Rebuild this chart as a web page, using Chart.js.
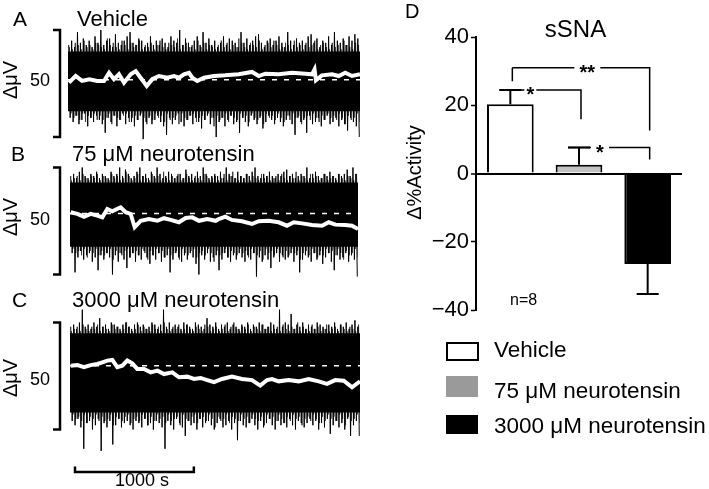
<!DOCTYPE html>
<html><head><meta charset="utf-8">
<script src="https://cdn.jsdelivr.net/npm/chart.js@4.4.1/dist/chart.umd.min.js"></script>
<style>
html,body{margin:0;padding:0;background:#fff;}
#wrap{position:relative;width:709px;height:489px;overflow:hidden;background:#fff;}
canvas{position:absolute;left:0;top:0;}
</style></head><body>
<div id="wrap">
<canvas id="cA" width="709" height="489"></canvas>
<canvas id="cB" width="709" height="489"></canvas>
<canvas id="cC" width="709" height="489"></canvas>
<canvas id="cD" width="709" height="489"></canvas>
</div>
<script>
const FONT = "'Liberation Sans', Arial, Helvetica, sans-serif";

// ---------- Traces (panels A-C) ----------
const panelLetters = ['A', 'B', 'C'];
const panelTitles = ['Vehicle', '75 \u03bcM neurotensin', '3000 \u03bcM neurotensin'];
const scaleBarLabel = '50';        // µV scale bar
const unitLabel = '\u0394\u03bcV';
const timeBarLabel = '1000 s';
const timeSpan = 2440;             // s shown in each trace
const timeBarSeconds = [42, 1042];
const scaleBarMicroV = [-25, 25];

// spike tops / bottoms (µV relative to scale-bar centre)
const A_hi = [18,20,17,24,19,21,18,20,17,22, 19,25,18,20,21,17,23,19,18,20, 22,24,19,18,21,20,17,19,22,18, 20,18,21,19,17,22,20,19,25,18,
              21,19,17,20,22,18,24,19,21,18, 20,17,19,22,18,21,20,19,17,24, 19,21,18,20,22,23,19,17,20,21, 18,20,22,19,17,24,20,18,21,19,
              20,18,22,23,19,21,17,20,19,22, 18,24,20,19,21,18,22,20,23,21];
const A_lo = [-16,-18,-15,-19,-17,-14,-20,-16,-18,-15, -17,-19,-23,-16,-18,-15,-20,-17,-14,-19, -16,-18,-20,-17,-15,-26,-18,-16,-19,-17,
              -15,-18,-20,-24,-16,-19,-17,-14,-18,-20, -17,-15,-19,-16,-18,-21,-17,-15,-19,-16, -25,-18,-16,-20,-17,-15,-19,-18,-23,-16,
              -18,-20,-15,-17,-19,-16,-21,-18,-15,-17, -19,-16,-18,-20,-17,-15,-19,-24,-16,-18, -17,-23,-15,-19,-18,-16,-20,-17,-15,-19,
              -18,-16,-20,-17,-19,-22,-16,-18,-20,-25];
const A_hi2 = [17,16,19,18,16,20,17,18,16,19, 18,17,16,21,18,19,17,16,20,18, 16,19,17,18,20,16,18,17,19,16, 18,20,17,16,19,18,17,21,16,18,
               19,17,18,16,20,17,19,16,18,17, 16,18,20,17,19,16,18,17,21,19, 17,16,19,18,17,20,16,18,19,17, 20,18,16,17,19,18,16,20,17,18,
               16,19,17,18,20,16,18,19,17,16, 19,17,18,16,20,18,17,16,19,18];
const A_lo2 = [-14,-16,-15,-17,-14,-18,-15,-16,-14,-17, -15,-17,-16,-14,-19,-15,-16,-17,-15,-14, -18,-16,-15,-17,-14,-16,-19,-15,-17,-14,
               -16,-15,-18,-14,-17,-16,-15,-19,-14,-16, -17,-15,-14,-18,-16,-15,-17,-14,-16,-20, -15,-17,-16,-14,-18,-15,-16,-17,-14,-16,
               -15,-18,-14,-16,-17,-15,-19,-14,-16,-15, -17,-14,-16,-18,-15,-17,-14,-16,-15,-19, -16,-15,-17,-14,-16,-18,-15,-17,-14,-16,
               -15,-17,-14,-16,-19,-15,-17,-16,-14,-18];
const B_hi = [21,22,20,23,25,21,20,22,21,23, 20,22,21,20,23,21,22,25,21,24, 22,20,21,23,25,21,22,20,23,21, 25,22,20,21,23,22,20,21,22,20,
              24,21,22,20,23,21,25,22,20,21, 22,21,23,20,25,22,21,20,23,21, 20,22,21,23,25,21,20,22,21,23, 21,20,22,21,23,24,21,22,20,21,
              22,21,25,20,22,23,21,20,22,21, 23,21,20,22,21,22,24,21,25,22];
const B_lo = [-15,-24,-17,-14,-18,-16,-15,-19,-17,-23, -16,-18,-15,-17,-25,-16,-19,-15,-18,-22, -17,-15,-19,-16,-18,-14,-17,-20,-16,-18,
              -15,-19,-17,-16,-24,-18,-15,-17,-19,-16, -18,-15,-17,-20,-25,-16,-18,-15,-19,-17, -16,-23,-18,-15,-17,-19,-16,-18,-15,-17,
              -19,-16,-18,-15,-26,-17,-19,-16,-18,-22, -17,-15,-19,-16,-18,-17,-15,-19,-16,-24, -18,-16,-17,-19,-15,-18,-16,-20,-17,-15,
              -19,-23,-16,-18,-17,-15,-19,-16,-18,-26];
const B_hi2 = [19,20,21,19,22,20,19,21,20,22, 19,21,20,19,22,20,21,19,20,23, 21,19,20,22,19,21,20,19,22,20, 21,19,23,20,19,21,20,22,19,20,
               22,20,19,21,20,19,22,21,19,20, 21,19,20,22,19,21,23,20,19,21, 20,22,19,21,20,19,22,20,21,19, 20,21,19,22,20,19,21,20,23,19,
               21,20,19,22,20,21,19,20,22,19, 20,21,19,22,20,19,21,20,19,22];
const B_lo2 = [-13,-15,-14,-16,-13,-17,-14,-15,-13,-16, -14,-16,-15,-13,-18,-14,-15,-16,-14,-13, -17,-15,-14,-16,-13,-15,-18,-14,-16,-13,
               -15,-14,-17,-13,-16,-15,-14,-18,-13,-15, -16,-14,-13,-17,-15,-14,-16,-13,-15,-19, -14,-16,-15,-13,-17,-14,-15,-16,-13,-15,
               -14,-17,-13,-15,-16,-14,-18,-13,-15,-14, -16,-13,-15,-17,-14,-16,-13,-15,-14,-18, -15,-14,-16,-13,-15,-17,-14,-16,-13,-15,
               -14,-16,-13,-15,-18,-14,-16,-15,-13,-17];
const C_hi = [23,24,22,25,31,23,24,22,25,23, 27,23,24,22,25,24,23,22,24,25, 23,22,24,25,23,24,22,23,25,24, 22,24,31,23,25,22,24,23,22,25,
              24,23,22,25,24,23,22,27,24,23, 25,22,24,23,25,22,24,23,22,24, 23,25,22,24,23,25,24,22,23,25, 24,22,31,23,25,24,29,22,24,23,
              25,22,24,23,22,25,24,23,22,24, 23,25,22,24,23,25,22,24,26,23];
const C_lo = [-21,-23,-20,-24,-34,-22,-21,-25,-23,-20, -35,-22,-24,-21,-32,-23,-20,-24,-22,-21, -23,-25,-21,-22,-24,-20,-23,-22,-25,-21,
              -22,-24,-34,-21,-23,-25,-20,-22,-24,-28, -21,-23,-22,-25,-20,-24,-22,-21,-23,-25, -22,-20,-24,-23,-21,-25,-22,-30,-21,-23,
              -24,-22,-20,-23,-25,-21,-24,-22,-20,-23, -25,-21,-23,-22,-24,-20,-23,-25,-21,-22, -24,-22,-20,-23,-21,-25,-22,-24,-20,-27,
              -23,-21,-24,-22,-25,-20,-28,-23,-21,-28];
const C_hi2 = [21,22,23,21,24,22,21,23,22,24, 21,23,22,21,24,22,23,21,22,25, 23,21,22,24,21,23,22,21,24,22, 23,21,25,22,21,23,22,24,21,22,
               24,22,21,23,22,21,24,23,21,22, 23,21,22,24,21,23,25,22,21,23, 22,24,21,23,22,21,24,22,23,21, 22,23,21,24,22,21,23,22,25,21,
               23,22,21,24,22,23,21,22,24,21, 22,23,21,24,22,21,23,22,21,24];
const C_lo2 = [-18,-20,-19,-21,-18,-22,-19,-20,-18,-21, -19,-21,-20,-18,-23,-19,-20,-21,-19,-18, -22,-20,-19,-21,-18,-20,-23,-19,-21,-18,
               -20,-19,-22,-18,-21,-20,-19,-23,-18,-20, -21,-19,-18,-22,-20,-19,-21,-18,-20,-24, -19,-21,-20,-18,-22,-19,-20,-21,-18,-20,
               -19,-22,-18,-20,-21,-19,-23,-18,-20,-19, -21,-18,-20,-22,-19,-21,-18,-20,-19,-23, -20,-19,-21,-18,-20,-22,-19,-21,-18,-20,
               -19,-21,-18,-20,-23,-19,-21,-20,-18,-22];
// dense core of the recording (µV)
const coreTop = [15, 18, 20];
const coreBottom = [-13, -12, -17];
// dashed baseline (µV)
const baselineLevel = [1.8, 3.5, 4.8];
// white averaged trace
const A_avgT = [8,64,117,178,245,301,343,384,426,468,524,566,607,658,704,760,830,886,928,969,1011,1039,1080,1136,1220,1314,1426,1538,1594,1649,1761,1872,1983,2039,2060,2072,2122,2206,2262,2317,2373,2440];
const A_avgV = [0.4,3.5,1.2,2.0,1.2,1.2,5.0,2.0,4.3,0.4,4.3,5.8,2.7,-1.2,2.0,3.5,2.7,3.5,2.7,4.3,5.0,2.7,1.2,2.7,3.5,3.8,4.3,5.4,3.5,4.6,4.3,5.0,4.6,4.3,6.6,1.5,3.8,4.3,3.5,5.0,3.5,4.3];
const B_avgT = [6,62,119,175,231,274,316,358,429,472,514,548,599,669,740,796,853,923,980,1036,1093,1163,1234,1260,1316,1372,1457,1542,1599,1683,1768,1838,1895,1966,2050,2135,2192,2248,2332,2389,2440];
const B_avgV = [4.1,3.3,2.0,3.3,2.5,1.7,5.6,4.5,6.4,4.1,3.3,-2.9,0.1,0.9,0.1,1.3,0.5,-0.6,1.4,1.7,0.1,0.9,0.1,0.9,2.0,0.5,-0.1,-1.4,-0.1,0.1,-0.6,-2.2,-0.6,-1.1,-1.9,-2.2,-0.6,-1.7,-1.9,-2.2,-3.7];
const C_avgT = [6,62,118,174,230,272,314,356,398,440,482,524,566,623,679,735,791,861,917,987,1043,1099,1155,1212,1279,1363,1447,1531,1601,1658,1700,1756,1840,1924,2008,2093,2162,2232,2303,2373,2440];
const C_avgV = [4.8,5.1,4.1,5.1,5.6,6.4,7.2,7.5,4.1,4.8,7.2,5.9,3.3,3.3,1.7,2.5,0.9,1.7,-0.6,-0.3,-1.4,-0.9,-1.9,-2.9,-1.4,-0.3,-1.4,-1.9,-4.5,-1.9,-1.4,-2.5,-1.9,-2.5,-1.4,-2.5,-3.7,-1.9,-2.2,-5.3,-2.5];

// ---------- Bar chart (panel D) ----------
const groups = ['Vehicle', '75 \u03bcM neurotensin', '3000 \u03bcM neurotensin'];
const means = [20.3, 2.6, -26.5];
const sems = [4.2, 5.0, 8.8];
const yTicks = [-40, -20, 0, 20, 40];
const sigLabels = ['**', '*', '*'];
const sigPairs = [[0, 2], [0, 1], [1, 2]];
const sigLevels = [31, 24.5, 7.6];
const sigLegEnds = [[27, 12.6], [24.5, 15.9], [7.6, 4.1]];
const chartTitle = 'sSNA';
const yTitle = '\u0394%Activity';
const nLabel = 'n=8';

// ---------- layout (pixels) ----------
const traceLayout = [
  {left:68, right:360, cy:83.5, min:-28, max:27, letterX:13, titleX:77, baseY:26, fiftyY:86, unitY:80},
  {left:70, right:358, cy:221, min:-28, max:28, letterX:11, titleX:72, baseY:161, fiftyY:225, unitY:217},
  {left:70, right:360, cy:376, min:-36, max:32, letterX:12, titleX:72, baseY:307, fiftyY:385, unitY:378}
];
const PX_PER_UV = 2.14;

function zigzag(hi, lo, shift) {
  const pts = [];
  const step = timeSpan / hi.length;
  for (let i = 0; i < hi.length; i++) {
    pts.push({x: (i + shift) * step, y: hi[i]});
    pts.push({x: (i + shift + 0.5) * step, y: lo[i]});
  }
  return pts;
}
function pairs(t, v) { return t.map((x, i) => ({x, y: v[i]})); }

function makeTrace(id, idx, hi, lo, hi2, lo2, avgT, avgV) {
  const L = traceLayout[idx];
  const top = L.cy - L.max * PX_PER_UV;
  const bottom = L.cy - L.min * PX_PER_UV;
  const deco = {
    id: 'deco' + idx,
    afterDraw(chart) {
      const ctx = chart.ctx, ys = chart.scales.y, xs = chart.scales.x;
      ctx.save();
      ctx.fillStyle = '#000';
      ctx.textBaseline = 'alphabetic';
      ctx.textAlign = 'left';
      ctx.font = '21px ' + FONT;
      ctx.fillText(panelLetters[idx], L.letterX, L.baseY);
      ctx.font = '22px ' + FONT;
      ctx.fillText(panelTitles[idx], L.titleX, L.baseY);
      // µV scale bracket
      const yt = ys.getPixelForValue(scaleBarMicroV[1]);
      const yb = ys.getPixelForValue(scaleBarMicroV[0]);
      ctx.strokeStyle = '#000';
      ctx.lineWidth = 2.5;
      ctx.beginPath();
      ctx.moveTo(53, yt); ctx.lineTo(60, yt); ctx.lineTo(60, yb); ctx.lineTo(53, yb);
      ctx.stroke();
      ctx.font = '18px ' + FONT;
      ctx.textAlign = 'right';
      ctx.fillText(scaleBarLabel, 50, L.fiftyY);
      ctx.save();
      ctx.translate(17, L.unitY);
      ctx.rotate(-Math.PI / 2);
      ctx.textAlign = 'center';
      ctx.font = '20px ' + FONT;
      ctx.fillText(unitLabel, 0, 0);
      ctx.restore();
      if (idx === 2) {
        const x0 = xs.getPixelForValue(timeBarSeconds[0]);
        const x1 = xs.getPixelForValue(timeBarSeconds[1]);
        ctx.lineWidth = 2.5;
        ctx.beginPath();
        ctx.moveTo(x0, 466.5); ctx.lineTo(x0, 472); ctx.lineTo(x1, 472); ctx.lineTo(x1, 466.5);
        ctx.stroke();
        ctx.font = '18px ' + FONT;
        ctx.textAlign = 'center';
        ctx.fillText(timeBarLabel, 142, 486);
      }
      ctx.restore();
    }
  };
  return new Chart(document.getElementById(id), {
    type: 'line',
    data: {
      datasets: [
        {data: pairs(avgT, avgV), borderColor: '#ffffff', borderWidth: 4, pointRadius: 0, tension: 0, order: 0, fill: false},
        {data: [{x: 0, y: baselineLevel[idx]}, {x: timeSpan, y: baselineLevel[idx]}], borderColor: '#ffffff', borderWidth: 1.5,
         borderDash: [5, 7], pointRadius: 0, order: 1, fill: false},
        {data: [{x: 0, y: coreTop[idx]}, {x: timeSpan, y: coreTop[idx]}], borderWidth: 0, borderColor: '#000',
         backgroundColor: '#000', pointRadius: 0, fill: '+1', order: 2},
        {data: [{x: 0, y: coreBottom[idx]}, {x: timeSpan, y: coreBottom[idx]}], borderWidth: 0, borderColor: '#000',
         pointRadius: 0, fill: false, order: 3},
        {data: zigzag(hi, lo, 0.25), borderColor: '#000', borderWidth: 1, pointRadius: 0, tension: 0, order: 4, fill: false},
        {data: zigzag(hi2, lo2, 0.5), borderColor: '#3a3a3a', borderWidth: 1, pointRadius: 0, tension: 0, order: 5, fill: false}
      ]
    },
    options: {
      responsive: false, animation: false, devicePixelRatio: 1,
      layout: {padding: {left: L.left, right: 709 - L.right, top: top, bottom: 489 - bottom}},
      plugins: {legend: {display: false}, tooltip: {enabled: false}},
      scales: {
        x: {type: 'linear', min: 0, max: timeSpan, display: false},
        y: {type: 'linear', min: L.min, max: L.max, display: false}
      }
    },
    plugins: [deco]
  });
}

makeTrace('cA', 0, A_hi, A_lo, A_hi2, A_lo2, A_avgT, A_avgV);
makeTrace('cB', 1, B_hi, B_lo, B_hi2, B_lo2, B_avgT, B_avgV);
makeTrace('cC', 2, C_hi, C_lo, C_hi2, C_lo2, C_avgT, C_avgV);

// ---------- panel D ----------
const barFills = ['#ffffff', '#c2c2c2', '#000000'];
const legendFills = ['#ffffff', '#9a9a9a', '#000000'];
const sigStarOffset = [77, 20, 21];
const sigGap = [13, 6, 9];

const decoD = {
  id: 'decoD',
  afterDatasetsDraw(chart) {
    const ctx = chart.ctx, xs = chart.scales.x, ys = chart.scales.y;
    ctx.save();
    ctx.strokeStyle = '#000';
    ctx.lineWidth = 2;
    means.forEach((m, i) => {
      const x = xs.getPixelForValue(i);
      const end = m >= 0 ? m + sems[i] : m - sems[i];
      const y0 = ys.getPixelForValue(m), y1 = ys.getPixelForValue(end);
      ctx.beginPath();
      ctx.moveTo(x, y0); ctx.lineTo(x, y1);
      ctx.moveTo(x - 11, y1); ctx.lineTo(x + 11, y1);
      ctx.stroke();
    });
    ctx.lineWidth = 1.5;
    ctx.fillStyle = '#000';
    ctx.font = 'bold 20px ' + FONT;
    ctx.textAlign = 'center';
    ctx.textBaseline = 'alphabetic';
    sigPairs.forEach((p, k) => {
      const xa = xs.getPixelForValue(p[0]) + 2;
      const xb = xs.getPixelForValue(p[1]) + 2;
      const y = ys.getPixelForValue(sigLevels[k]);
      const ya = ys.getPixelForValue(sigLegEnds[k][0]);
      const yb = ys.getPixelForValue(sigLegEnds[k][1]);
      const xStar = xs.getPixelForValue(p[0]) + sigStarOffset[k];
      const startX = sigLegEnds[k][0] === sigLevels[k] ? xa - 13 : xa;
      ctx.beginPath();
      ctx.moveTo(xa, ya); ctx.lineTo(xa, y);
      ctx.moveTo(startX, y); ctx.lineTo(xStar - sigGap[k], y);
      ctx.moveTo(xStar + sigGap[k], y); ctx.lineTo(xb, y); ctx.lineTo(xb, yb);
      ctx.stroke();
      ctx.fillText(sigLabels[k], xStar, y + 11);
    });
    ctx.restore();
  },
  afterDraw(chart) {
    const ctx = chart.ctx;
    ctx.save();
    ctx.fillStyle = '#000';
    ctx.textBaseline = 'alphabetic';
    ctx.font = '20px ' + FONT;
    ctx.textAlign = 'left';
    ctx.fillText('D', 405, 18);
    ctx.font = '24px ' + FONT;
    ctx.textAlign = 'center';
    ctx.fillText(chartTitle, 575.5, 37);
    ctx.save();
    ctx.translate(421, 172.5);
    ctx.rotate(-Math.PI / 2);
    ctx.font = '20px ' + FONT;
    ctx.fillText(yTitle, 0, 0);
    ctx.restore();
    ctx.font = '16px ' + FONT;
    ctx.textAlign = 'left';
    ctx.fillText(nLabel, 510, 305);
    // legend
    const boxes = [[446, 342, 33, 19], [446, 376, 32, 21], [446, 415, 32, 19]];
    const textY = [357, 398, 433];
    ctx.font = '22.5px ' + FONT;
    groups.forEach((g, i) => {
      const b = boxes[i];
      ctx.fillStyle = legendFills[i];
      ctx.fillRect(b[0], b[1], b[2], b[3]);
      if (i === 0) {
        ctx.strokeStyle = '#000'; ctx.lineWidth = 2;
        ctx.strokeRect(b[0] + 1, b[1] + 1, b[2] - 2, b[3] - 2);
      }
      ctx.fillStyle = '#000';
      ctx.fillText(g, 494, textY[i]);
    });
    ctx.restore();
  }
};

new Chart(document.getElementById('cD'), {
  type: 'bar',
  data: {
    labels: groups,
    datasets: [{data: means, backgroundColor: barFills, borderColor: '#000', borderWidth: 2,
                barPercentage: 0.68, categoryPercentage: 1}]
  },
  options: {
    responsive: false, animation: false, devicePixelRatio: 1,
    layout: {padding: {left: 370, right: 27, top: 37, bottom: 179}},
    plugins: {legend: {display: false}, tooltip: {enabled: false}},
    scales: {
      x: {type: 'category', display: false, offset: true},
      y: {
        min: -40, max: 40,
        afterFit(s) { s.width = 106; },
        afterBuildTicks(s) { s.ticks = yTicks.map(v => ({value: v})); },
        border: {display: true, color: '#000', width: 2},
        grid: {
          color: c => (c.tick && c.tick.value === 0) ? '#000' : 'rgba(0,0,0,0)',
          lineWidth: c => (c.tick && c.tick.value === 0) ? 2 : 1,
          tickColor: '#000', tickWidth: 1.5, tickLength: 5, drawTicks: true
        },
        ticks: {color: '#000', font: {family: FONT, size: 22}, padding: 2,
                callback: v => String(v).replace('-', '\u2212')}
      }
    }
  },
  plugins: [decoD]
});
</script>
</body></html>
